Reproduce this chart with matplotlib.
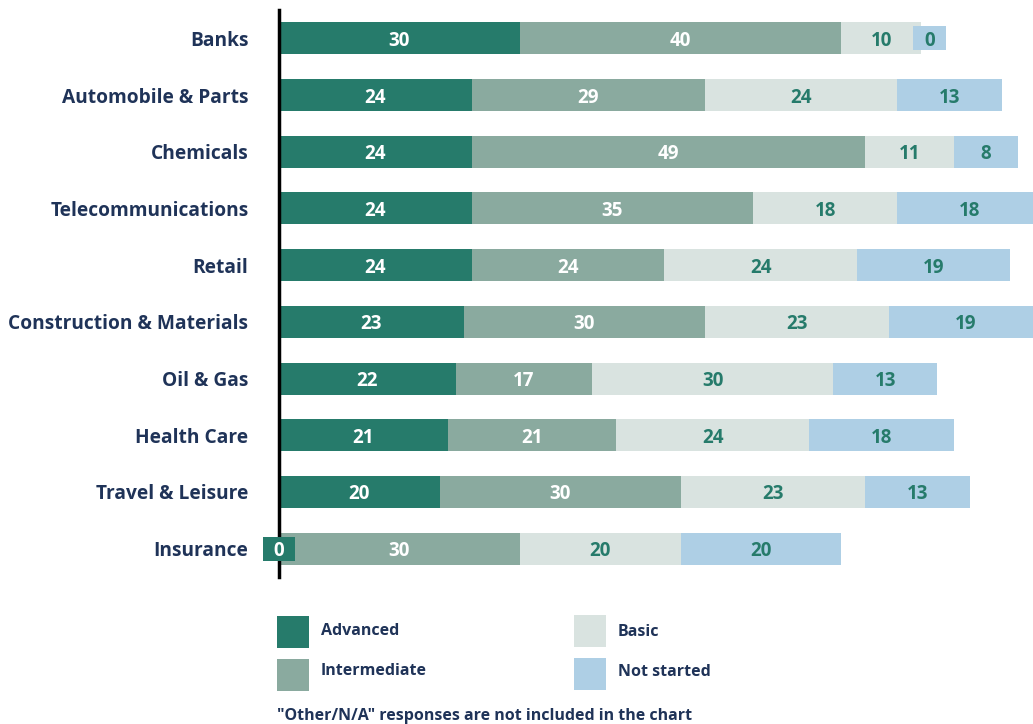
import matplotlib
matplotlib.use("Agg")
import matplotlib.pyplot as plt
from matplotlib.patches import Rectangle
import numpy as np

plt.rcParams['font.family'] = ['Open Sans', 'DejaVu Sans']

categories = ["Banks", "Automobile & Parts", "Chemicals", "Telecommunications", "Retail",
              "Construction & Materials", "Oil & Gas", "Health Care", "Travel & Leisure", "Insurance"]
series_names = ["Advanced", "Intermediate", "Basic", "Not started"]
advanced = [30, 24, 24, 24, 24, 23, 22, 21, 20, 0]
intermediate = [40, 29, 49, 35, 24, 30, 17, 21, 30, 30]
basic = [10, 24, 11, 18, 24, 23, 30, 24, 23, 20]
not_started = [0, 13, 8, 18, 19, 19, 13, 18, 13, 20]
footnote = '"Other/N/A" responses are not included in the chart'

colors = ["#267B6B", "#8AAA9F", "#D9E3E0", "#AECFE5"]
text_colors = ["white", "white", "#267B6B", "#267B6B"]
navy = "#1F3358"

W, H = 1033, 724
fig = plt.figure(figsize=(W / 100, H / 100), dpi=100)
ax = fig.add_axes([279 / W, 1 - 577 / H, (W - 279) / W, (577 - 10) / H])

series = [advanced, intermediate, basic, not_started]
y = np.arange(len(categories))
left = np.zeros(len(categories))
bar_h = 0.565
zero_boxes = []
for si, vals in enumerate(series):
    vals = np.array(vals, dtype=float)
    ax.barh(y, vals, left=left, height=bar_h, color=colors[si], edgecolor='none', zorder=2)
    for i, v in enumerate(vals):
        if v > 0:
            ax.text(left[i] + v / 2, y[i], f"{int(v)}", ha='center', va='center_baseline',
                    color=text_colors[si], fontsize=13.5, fontweight='bold', zorder=7)
        else:
            zero_boxes.append((si, i, left[i]))
    left += vals

# zero-value label boxes
box_w = 4.1
for si, i, pos in zero_boxes:
    cx = pos if si == 0 else pos + 1.0
    rect = Rectangle((cx - box_w / 2, y[i] - 0.21), box_w, 0.42, facecolor=colors[si],
                     edgecolor='none', zorder=6, clip_on=False)
    ax.add_patch(rect)
    ax.text(cx, y[i], "0", ha='center', va='center_baseline', color=text_colors[si],
            fontsize=13.5, fontweight='bold', zorder=7, clip_on=False)

ax.set_xlim(0, (W - 279) / 8.03)
ax.set_ylim(len(categories) - 0.5, -0.5)
ax.set_yticks(y)
ax.set_yticklabels(categories, fontsize=13.8, fontweight='bold', color=navy)
ax.tick_params(axis='y', length=0, pad=22)
ax.set_xticks([])
for s in ['top', 'right', 'bottom']:
    ax.spines[s].set_visible(False)
ax.spines['left'].set_linewidth(2.5)
ax.spines['left'].set_color('black')
ax.spines['left'].set_zorder(5)

# legend
legend_pos = [(277, 616), (277, 659), (574, 615), (574, 658)]
text_offsets = [-1, -4, 1, -2]
for (px, py), name, c, dy in zip(legend_pos, series_names, colors, text_offsets):
    fig.patches.append(Rectangle((px / W, 1 - (py + 32) / H), 32 / W, 32 / H,
                                 transform=fig.transFigure, facecolor=c, edgecolor='none'))
    fig.text((px + 44) / W, 1 - (py + 16 + dy) / H, name, ha='left', va='center',
             fontsize=11.5, fontweight='bold', color=navy)

fig.text(277 / W, 1 - 716 / H, footnote, ha='left', va='center',
         fontsize=11.5, fontweight='bold', color=navy)

fig.savefig("out.png", dpi=100)
